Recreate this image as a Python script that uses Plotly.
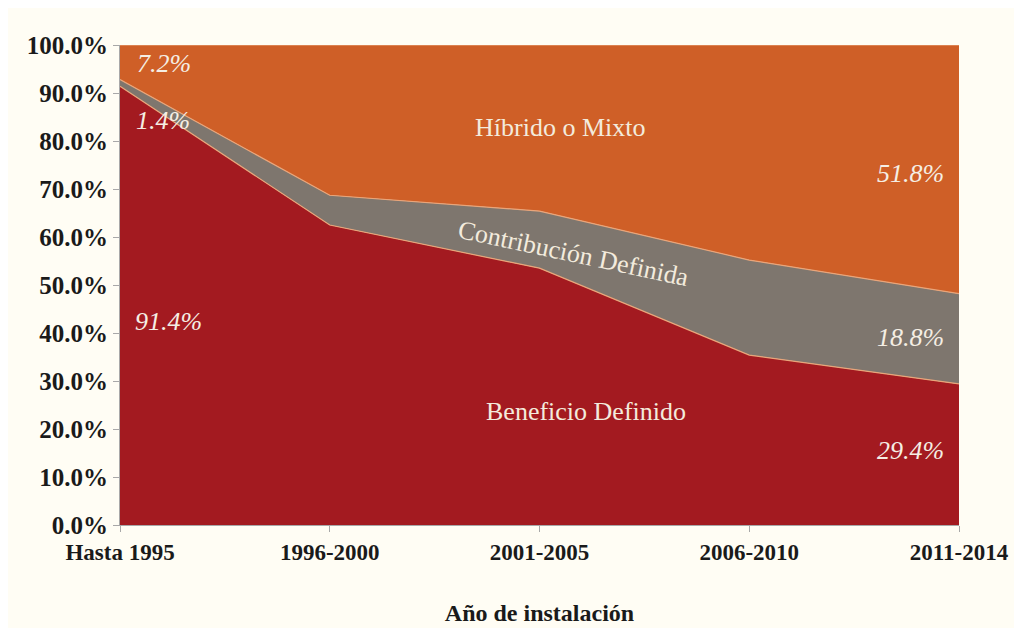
import plotly.graph_objects as go

categories = ["Hasta 1995", "1996-2000", "2001-2005", "2006-2010", "2011-2014"]
beneficio_definido = [91.4, 62.5, 53.5, 35.4, 29.4]
contribucion_definida = [1.4, 6.2, 11.9, 19.8, 18.8]
hibrido_mixto = [7.2, 31.3, 34.6, 44.8, 51.8]
y_ticks = [0, 10, 20, 30, 40, 50, 60, 70, 80, 90, 100]

SERIF = "Liberation Serif, DejaVu Serif, serif"

fig = go.Figure()
series = [
    ("Beneficio Definido", beneficio_definido, "#A31A20"),
    ("Contribución Definida", contribucion_definida, "#7E766E"),
    ("Híbrido o Mixto", hibrido_mixto, "#CF5F27"),
]
for name, vals, col in series:
    fig.add_trace(go.Scatter(
        x=categories, y=vals, name=name, mode="lines",
        stackgroup="one", fillcolor=col,
        line=dict(color="#E9A57A", width=1.2),
        hoverinfo="x+y+name",
    ))

# value labels (italic)
def lbl(x, y, text, xanchor="center"):
    fig.add_annotation(x=x, y=y, xref="x", yref="y", text="<i>" + text + "</i>",
                       showarrow=False, xanchor=xanchor,
                       font=dict(family=SERIF, size=26, color="#F5EEE4"))

lbl(0.07, 96.2, f"{hibrido_mixto[0]}%", "left")
lbl(0.065, 84.2, f"{contribucion_definida[0]}%", "left")
lbl(0.06, 42.5, f"{beneficio_definido[0]}%", "left")
lbl(3.94, 73.3, f"{hibrido_mixto[4]}%", "right")
lbl(3.94, 39.0, f"{contribucion_definida[4]}%", "right")
lbl(3.94, 15.6, f"{beneficio_definido[4]}%", "right")

# series names
def name_lbl(x, y, text, angle=0, size=25):
    fig.add_annotation(x=x, y=y, xref="x", yref="y", text=text, showarrow=False,
                       textangle=angle,
                       font=dict(family=SERIF, size=size, color="#F3EBDD"))

name_lbl(2.1, 82.8, "Híbrido o Mixto", size=26)
name_lbl(2.16, 56.5, "Contribución Definida", 12, 26)
name_lbl(2.22, 23.6, "Beneficio Definido", size=26)

fig.update_layout(
    width=1022, height=628,
    margin=dict(l=112, r=71, t=37, b=111),
    paper_bgcolor="#FFFDF4",
    plot_bgcolor="#FFFFFF",
    showlegend=False,
    xaxis=dict(
        type="category", range=[0, 4],
        showgrid=False, zeroline=False,
        showline=True, linecolor="#A8A8A8", linewidth=1,
        ticks="outside", ticklen=6, tickcolor="#A8A8A8",
        tickfont=dict(family=SERIF, size=23, color="#1A1A1A", weight="bold"),
        title=dict(text="<b>Año de instalación</b>", standoff=40,
                   font=dict(family=SERIF, size=24, color="#1A1A1A")),
    ),
    yaxis=dict(
        range=[0, 100], tickvals=y_ticks,
        ticktext=[f"{v:.1f}%" for v in y_ticks],
        showgrid=False, zeroline=False,
        showline=True, linecolor="#A8A8A8", linewidth=1,
        ticks="outside", ticklen=6, tickcolor="#A8A8A8",
        tickfont=dict(family=SERIF, size=25, color="#1A1A1A", weight="bold"),
    ),
)

fig.write_html("out.html")
